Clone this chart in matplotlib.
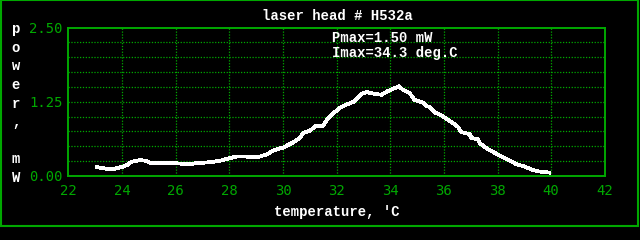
import matplotlib

matplotlib.use("Agg")
import matplotlib.pyplot as plt
from matplotlib.patches import Rectangle

### Data
temperature = [
    23.06, 23.4, 23.65, 24.03, 24.2, 24.34, 24.65, 24.84, 25.09, 25.5,
    26.0, 26.5, 26.76, 27.26, 27.63, 28.0, 28.26, 28.63, 28.88, 29.13,
    29.44, 29.62, 30.0, 30.37, 30.62, 30.74, 30.99, 31.24, 31.49, 31.62,
    31.86, 32.1, 32.36, 32.61, 32.73, 32.92, 33.1, 33.41, 33.67, 33.91,
    34.16, 34.32, 34.47, 34.72, 34.9, 35.2, 35.34, 35.47, 35.66, 35.9,
    36.1, 36.34, 36.53, 36.65, 36.96, 37.03, 37.27, 37.34, 37.58, 37.77,
    37.96, 38.2, 38.45, 38.7, 39.01, 39.32, 39.57, 39.76, 39.92,
]
power = [
    0.147, 0.123, 0.113, 0.157, 0.186, 0.236, 0.265, 0.26, 0.214, 0.214,
    0.214, 0.197, 0.214, 0.23, 0.253, 0.298, 0.326, 0.326, 0.315, 0.326,
    0.37, 0.428, 0.478, 0.562, 0.636, 0.72, 0.76, 0.845, 0.845, 0.935,
    1.047, 1.143, 1.2, 1.245, 1.295, 1.38, 1.414, 1.385, 1.368, 1.43,
    1.48, 1.508, 1.453, 1.397, 1.284, 1.24, 1.18, 1.16, 1.07, 1.02,
    0.963, 0.89, 0.823, 0.738, 0.704, 0.637, 0.62, 0.552, 0.468, 0.422,
    0.372, 0.316, 0.258, 0.198, 0.157, 0.101, 0.073, 0.068, 0.056,
]
x_ticks = [22, 24, 26, 28, 30, 32, 34, 36, 38, 40, 42]
y_ticks = [0.0, 1.25, 2.50]
y_grid = [0.25, 0.5, 0.75, 1.0, 1.25, 1.5, 1.75, 2.0, 2.25]
title = "laser head # H532a"
notes = ["Pmax=1.50 mW", "Imax=34.3 deg.C"]
x_label = "temperature, 'C"
y_label = "power, mW"

GREEN = "#00a800"
WHITE = "#ffffff"
MONO_W = ["Liberation Mono", "DejaVu Sans Mono"]
MONO_G = ["DejaVu Sans Mono"]

fig = plt.figure(figsize=(6.4, 2.4), dpi=100, facecolor="black")

# outer green frame
fig.patches.append(
    Rectangle((0.001, 0.058), 0.996, 0.94, transform=fig.transFigure,
              fill=False, edgecolor=GREEN, linewidth=1.5)
)

ax = fig.add_axes([0.107, 0.267, 0.838, 0.618], facecolor="black")
ax.set_xlim(22, 42)
ax.set_ylim(0, 2.5)

for spine in ax.spines.values():
    spine.set_color(GREEN)
    spine.set_linewidth(1.4)

# dotted grid
for xv in x_ticks[1:-1]:
    ax.axvline(xv, color=GREEN, linewidth=0.9, linestyle=(0, (1, 1.3)))
for yv in y_grid:
    ax.axhline(yv, color=GREEN, linewidth=0.9, linestyle=(0, (1, 1.3)))

ax.plot(temperature, power, color=WHITE, linewidth=2.0,
        solid_joinstyle="miter", antialiased=False)

ax.set_xticks(x_ticks)
ax.set_yticks(y_ticks)
ax.set_xticklabels([str(t) for t in x_ticks], color=GREEN,
                   fontfamily=MONO_G, fontsize=10)
ax.set_yticklabels([f"{t:.2f}" for t in y_ticks], color=GREEN,
                   fontfamily=MONO_G, fontsize=10)
ax.tick_params(length=0, pad=4)
ax.tick_params(axis="x", pad=6)

ax.set_xlabel(x_label, color=WHITE, fontfamily=MONO_W, fontsize=10,
              fontweight="bold", labelpad=5)
fig.text(0.527, 0.935, title, color=WHITE, fontfamily=MONO_W,
         fontsize=10, fontweight="bold", ha="center", va="center")

ax.text(0.492, 0.93, notes[0], transform=ax.transAxes, color=WHITE,
        fontfamily=MONO_W, fontsize=10, fontweight="bold", va="center")
ax.text(0.492, 0.83, notes[1], transform=ax.transAxes, color=WHITE,
        fontfamily=MONO_W, fontsize=10, fontweight="bold", va="center")

# stacked vertical y label
for i, ch in enumerate(y_label):
    fig.text(0.025, 0.878 - i * 0.0775, ch, color=WHITE, fontfamily=MONO_W,
             fontsize=10, fontweight="bold", ha="center", va="center")

fig.savefig("out.png", dpi=100, facecolor="black")
